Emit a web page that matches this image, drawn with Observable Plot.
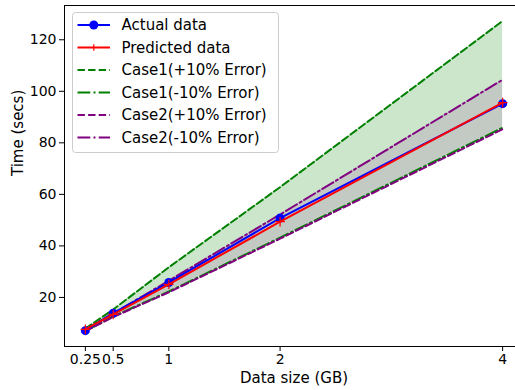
<!DOCTYPE html>
<html>
<head>
<meta charset="utf-8">
<script src="https://cdn.jsdelivr.net/npm/d3@7"></script>
<script src="https://cdn.jsdelivr.net/npm/@observablehq/plot@0.6"></script>
<style>
  html, body { margin: 0; padding: 0; background: #fff; }
  #chart { position: relative; width: 515px; height: 390px; }
  svg { font-family: "DejaVu Sans", sans-serif; }
</style>
</head>
<body>
<div id="chart"></div>
<script>
// Data size (GB)
const sizes = [0.25, 0.5, 1, 2, 4];
const xTicks = [0.25, 0.5, 1, 2, 4];
const yTicks = [20, 40, 60, 80, 100, 120];

// Time (secs)
const actual     = [7.1, 13.9, 25.8, 50.8, 95.2];
const predicted  = [7.6, 13.4, 25.1, 49.4, 95.6];
const case1Plus  = [7.9, 15.3, 31.7, 62.8, 127.3];
const case1Minus = [7.0, 12.6, 22.3, 43.2, 85.9];
const case2Plus  = [6.9, 12.4, 22.0, 42.8, 85.3];
const case2Minus = [7.5, 13.8, 26.5, 52.2, 104.5];

const seriesNames = ["Actual data", "Predicted data", "Case1(+10% Error)", "Case1(-10% Error)", "Case2(+10% Error)", "Case2(-10% Error)"];

const rows = sizes.map((s, i) => ({
  x: s, actual: actual[i], predicted: predicted[i],
  c1p: case1Plus[i], c1m: case1Minus[i], c2p: case2Plus[i], c2m: case2Minus[i]
}));

const LW = 2;
const DASH = `${3.7*LW},${1.6*LW}`;
const DASHDOT = `${6.4*LW},${1.6*LW},${1*LW},${1.6*LW}`;

const styles = [
  {key: "actual", stroke: "blue", dash: null, marker: "circle"},
  {key: "predicted", stroke: "red", dash: null, marker: "plus"},
  {key: "c1p", stroke: "green", dash: DASH},
  {key: "c1m", stroke: "green", dash: DASHDOT},
  {key: "c2p", stroke: "purple", dash: DASH},
  {key: "c2m", stroke: "purple", dash: DASHDOT}
];

const W = 515, H = 390;
const plot = Plot.plot({
  width: W, height: H,
  marginLeft: 64, marginRight: -8, marginTop: 5, marginBottom: 44,
  style: {fontFamily: "DejaVu Sans, sans-serif", fontSize: "14px", color: "#000", background: "#fff"},
  x: {domain: [0.0625, 4.1875], ticks: xTicks, tickFormat: d => String(d), label: null},
  y: {domain: [0.96, 133.3], ticks: yTicks, label: null},
  marks: [
    Plot.areaY(rows, {x: "x", y1: "c1m", y2: "c1p", fill: "green", fillOpacity: 0.2}),
    Plot.areaY(rows, {x: "x", y1: "c2p", y2: "c2m", fill: "purple", fillOpacity: 0.12}),
    ...styles.slice(2).map(s => Plot.line(rows, {x: "x", y: s.key, stroke: s.stroke, strokeWidth: LW, strokeDasharray: s.dash})),
    Plot.line(rows, {x: "x", y: "actual", stroke: "blue", strokeWidth: LW}),
    Plot.dot(rows, {x: "x", y: "actual", fill: "blue", r: 4.5, stroke: null}),
    Plot.line(rows, {x: "x", y: "predicted", stroke: "red", strokeWidth: LW}),
    Plot.dot(rows, {x: "x", y: "predicted", symbol: "plus", stroke: "red", r: 3.2, strokeWidth: 1.2}),
    Plot.frame({stroke: "#000", strokeWidth: 1}),
    Plot.axisX({ticks: xTicks, tickFormat: d => String(d), tickSize: 5, tickPadding: 3, label: null, fontSize: 14}),
    Plot.axisY({ticks: yTicks, tickSize: 5, tickPadding: 3, label: null, fontSize: 14}),
    Plot.text(["Data size (GB)"], {frameAnchor: "bottom", dy: 36, fontSize: 15}),
    Plot.text(["Time (secs)"], {frameAnchor: "left", dx: -46, rotate: -90, fontSize: 15})
  ]
});

// Legend inside the plot (upper left)
const svg = d3.select(plot);
const lg = svg.append("g").attr("transform", "translate(72.5,12.5)");
lg.append("rect").attr("width", 206).attr("height", 140).attr("rx", 3)
  .attr("fill", "white").attr("fill-opacity", 0.8).attr("stroke", "#cccccc");
styles.forEach((s, i) => {
  const cy = 12.5 + i * 22.5;
  lg.append("line").attr("x1", 5).attr("x2", 37.5).attr("y1", cy).attr("y2", cy)
    .attr("stroke", s.stroke).attr("stroke-width", LW)
    .attr("stroke-dasharray", s.dash);
  if (s.marker === "circle") lg.append("circle").attr("cx", 21.3).attr("cy", cy).attr("r", 4.5).attr("fill", s.stroke);
  if (s.marker === "plus") {
    lg.append("path").attr("d", `M18,${cy}H24.6M21.3,${cy-3.3}V${cy+3.3}`).attr("stroke", s.stroke).attr("stroke-width", 1.2);
  }
  lg.append("text").attr("x", 49).attr("y", cy).attr("dy", "0.35em")
    .attr("text-anchor", "start")
    .attr("font-size", 15).attr("fill", "#000").text(seriesNames[i]);
});

document.getElementById("chart").appendChild(plot);
</script>
</body>
</html>
